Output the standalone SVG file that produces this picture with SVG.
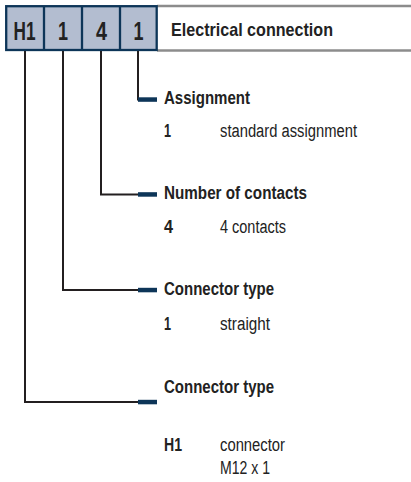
<svg xmlns="http://www.w3.org/2000/svg" width="411" height="482" viewBox="0 0 411 482">
<style>
text{font-family:"Liberation Sans",Arial,sans-serif;fill:#222}
.b{font-weight:bold}
.big{font-size:25px;font-weight:bold;text-anchor:middle}
.lbl{font-size:18px}
.ln{fill:none;stroke:#231f20;stroke-width:2}
.bar{fill:#0d3558}
.gray{stroke:#8c8c8c;stroke-width:2.5}
</style>
<rect width="411" height="482" fill="#fff"/>
<g id="header">
<line class="gray" x1="157" y1="6" x2="411" y2="6"/>
<line class="gray" x1="157" y1="50.5" x2="411" y2="50.5"/>
<rect x="6.2" y="6.2" width="150.5" height="43.8" fill="#b3bdd0" stroke="#0d3558" stroke-width="2.3"/>
<line x1="44" y1="6" x2="44" y2="50" stroke="#0d3558" stroke-width="2.3"/>
<line x1="82" y1="6" x2="82" y2="50" stroke="#0d3558" stroke-width="2.3"/>
<line x1="120" y1="6" x2="120" y2="50" stroke="#0d3558" stroke-width="2.3"/>
<text class="big" x="24.5" y="39.5" textLength="22" lengthAdjust="spacingAndGlyphs">H1</text>
<text class="big" x="63" y="39.5" textLength="10" lengthAdjust="spacingAndGlyphs">1</text>
<text class="big" x="101.5" y="39.5" textLength="11" lengthAdjust="spacingAndGlyphs">4</text>
<text class="big" x="138.5" y="39.5" textLength="10" lengthAdjust="spacingAndGlyphs">1</text>
<text class="b" x="171" y="36" font-size="19" textLength="162" lengthAdjust="spacingAndGlyphs">Electrical connection</text>
</g>
<g id="connectors">
<polyline class="ln" points="138,51 138,99.5 140,99.5"/>
<polyline class="ln" points="101,51 101,194.5 140,194.5"/>
<polyline class="ln" points="63,51 63,290 140,290"/>
<polyline class="ln" points="25,51 25,402 140,402"/>
<rect class="bar" x="138" y="97.3" width="19" height="4.5"/>
<rect class="bar" x="138" y="192.2" width="19" height="4.5"/>
<rect class="bar" x="138" y="287.8" width="19" height="4.5"/>
<rect class="bar" x="138" y="399.8" width="19" height="4.5"/>
</g>
<g id="assignment">
<text class="b lbl" x="164" y="104" textLength="86" lengthAdjust="spacingAndGlyphs">Assignment</text>
<text class="b lbl" x="164" y="137" textLength="7" lengthAdjust="spacingAndGlyphs">1</text>
<text class="lbl" x="220" y="137" textLength="137" lengthAdjust="spacingAndGlyphs">standard assignment</text>
</g>
<g id="contacts">
<text class="b lbl" x="164" y="198.5" textLength="143" lengthAdjust="spacingAndGlyphs">Number of contacts</text>
<text class="b lbl" x="164" y="233" textLength="9" lengthAdjust="spacingAndGlyphs">4</text>
<text class="lbl" x="220" y="233" textLength="66" lengthAdjust="spacingAndGlyphs">4 contacts</text>
</g>
<g id="connector-type-1">
<text class="b lbl" x="164" y="295" textLength="110" lengthAdjust="spacingAndGlyphs">Connector type</text>
<text class="b lbl" x="164" y="329.5" textLength="7" lengthAdjust="spacingAndGlyphs">1</text>
<text class="lbl" x="220" y="329.5" textLength="50" lengthAdjust="spacingAndGlyphs">straight</text>
</g>
<g id="connector-type-2">
<text class="b lbl" x="164" y="393" textLength="110" lengthAdjust="spacingAndGlyphs">Connector type</text>
<text class="b lbl" x="164" y="450.5" textLength="18" lengthAdjust="spacingAndGlyphs">H1</text>
<text class="lbl" x="220" y="450.5" textLength="65" lengthAdjust="spacingAndGlyphs">connector</text>
<text class="lbl" x="220" y="473.5" textLength="50" lengthAdjust="spacingAndGlyphs">M12 x 1</text>
</g>
</svg>
